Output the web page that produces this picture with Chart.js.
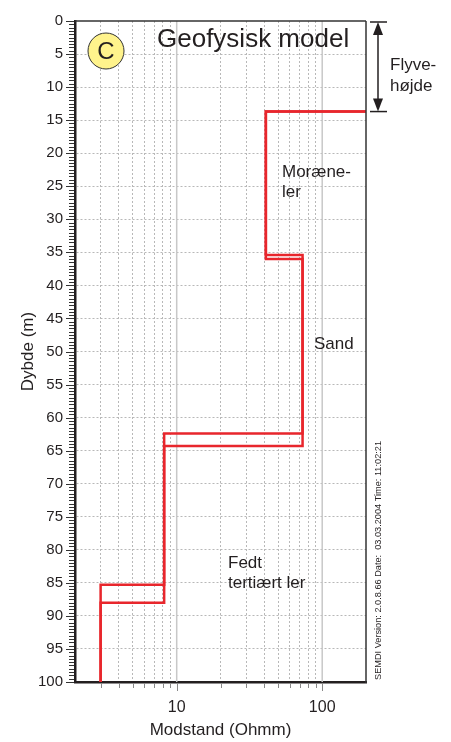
<!DOCTYPE html>
<html>
<head>
<meta charset="utf-8">
<script src="https://cdn.jsdelivr.net/npm/chart.js@4.4.1/dist/chart.umd.min.js"></script>
<style>
  html, body { margin: 0; padding: 0; background: #fff; }
  #wrap { width: 451px; height: 742px; position: relative; }
</style>
</head>
<body>
<div id="wrap"><canvas id="c" width="451" height="742"></canvas></div>
<script>
// Geophysical layer model: resistivity (ohm-m) against depth (m), two model variants
const flightHeight = 13.7;                       // instrument height above ground (m)
const resistivityA = [41, 73.3, 8.2, 3.0];       // layer resistivities, variant A
const layerBottomA = [35.4, 62.4, 85.3, 100];    // depth to bottom of each layer, variant A
const resistivityB = [41, 73.3, 8.2, 3.0];       // layer resistivities, variant B
const layerBottomB = [36.0, 64.3, 88.0, 100];    // depth to bottom of each layer, variant B

const depthTicks = [0, 5, 10, 15, 20, 25, 30, 35, 40, 45, 50, 55, 60, 65, 70, 75, 80, 85, 90, 95, 100];
const resistivityTicks = [2, 3, 4, 5, 6, 7, 8, 9, 10, 20, 30, 40, 50, 60, 70, 80, 90, 100, 200];
const labelledResistivity = [10, 100];

const X_MIN = 2, X_MAX = 200, Y_MIN = 0, Y_MAX = 100;
const INK = '#231f20';
const GRID = '#b8b8b8';
const RED = '#e8262c';
const FONT = '"Liberation Sans", Arial, Helvetica, sans-serif';

Chart.defaults.font.family = FONT;
Chart.defaults.color = INK;

// The profile enters from the right edge at flight height, then steps through the layers
function profile(rho, bottoms) {
  const pts = [{ x: X_MAX, y: flightHeight }];
  rho.forEach((r, i) => pts.push({ x: r, y: bottoms[i] }));
  return pts;
}

const lineStyle = {
  showLine: true,
  stepped: 'before',
  borderColor: RED,
  borderWidth: 2.5,
  borderJoinStyle: 'miter',
  borderCapStyle: 'butt',
  pointRadius: 0,
  pointHoverRadius: 0,
  fill: false
};

function line(ctx, x1, y1, x2, y2) {
  ctx.beginPath(); ctx.moveTo(x1, y1); ctx.lineTo(x2, y2); ctx.stroke();
}

const decor = {
  id: 'decor',
  beforeDatasetsDraw(chart) {
    const { ctx, chartArea: a, scales: { x } } = chart;
    ctx.save();
    ctx.strokeStyle = '#c8c8c8';
    ctx.lineWidth = 1.5;
    labelledResistivity.forEach(v => {
      const px = x.getPixelForValue(v);
      line(ctx, px, a.top, px, a.bottom);
    });
    ctx.restore();
  },
  afterDraw(chart) {
    const { ctx, chartArea: a, scales: { x, y } } = chart;
    ctx.save();

    // frame: top and right edges
    ctx.strokeStyle = '#333';
    ctx.lineWidth = 1.5;
    line(ctx, a.left, a.top, a.right, a.top);
    line(ctx, a.right, a.top, a.right, a.bottom + 1);

    // depth ticks every half metre, longer every 5 m
    ctx.strokeStyle = '#333';
    ctx.lineWidth = 1;
    for (let d = Y_MIN; d <= Y_MAX + 1e-9; d += 0.5) {
      const py = Math.round(y.getPixelForValue(d)) + 0.5;
      const len = (Math.abs(d % 5) < 1e-9) ? 9 : 6;
      line(ctx, a.left - len, py, a.left - 1, py);
    }

    // resistivity ticks below the axis
    ctx.strokeStyle = '#888';
    resistivityTicks.forEach(v => {
      if (v <= X_MIN || v >= X_MAX) return;
      const px = Math.round(x.getPixelForValue(v)) + 0.5;
      const len = labelledResistivity.includes(v) ? 8 : 5;
      line(ctx, px, a.bottom + 1, px, a.bottom + 1 + len);
    });

    // panel badge
    ctx.beginPath();
    ctx.arc(106, 51, 18, 0, Math.PI * 2);
    ctx.fillStyle = '#fff38c';
    ctx.fill();
    ctx.strokeStyle = '#333';
    ctx.lineWidth = 1;
    ctx.stroke();
    ctx.fillStyle = INK;
    ctx.font = '24px ' + FONT;
    ctx.textAlign = 'center';
    ctx.textBaseline = 'middle';
    ctx.fillText('C', 106, 52);

    // title
    ctx.textAlign = 'left';
    ctx.textBaseline = 'alphabetic';
    ctx.font = '26px ' + FONT;
    ctx.fillText('Geofysisk model', 157, 47);

    // layer names
    ctx.font = '17px ' + FONT;
    ctx.fillText('Moræne-', 282, 177);
    ctx.fillText('ler', 282, 197);
    ctx.fillText('Sand', 314, 349);
    ctx.fillText('Fedt', 228, 568);
    ctx.fillText('tertiært ler', 228, 588);

    // flight height dimension arrow
    const ax = a.right + 12;
    const yTop = y.getPixelForValue(0);
    const yBot = y.getPixelForValue(flightHeight);
    ctx.strokeStyle = INK;
    ctx.fillStyle = INK;
    ctx.lineWidth = 1.5;
    line(ctx, a.right + 4, yTop + 1, a.right + 21, yTop + 1);
    line(ctx, a.right + 4, yBot, a.right + 21, yBot);
    line(ctx, ax, yTop + 10, ax, yBot - 10);
    ctx.beginPath();
    ctx.moveTo(ax, yTop + 1); ctx.lineTo(ax - 5, yTop + 14); ctx.lineTo(ax + 5, yTop + 14); ctx.closePath(); ctx.fill();
    ctx.beginPath();
    ctx.moveTo(ax, yBot); ctx.lineTo(ax - 5, yBot - 13); ctx.lineTo(ax + 5, yBot - 13); ctx.closePath(); ctx.fill();

    ctx.font = '17px ' + FONT;
    ctx.fillText('Flyve-', 390, 70);
    ctx.fillText('højde', 390, 91);

    // program stamp along the right edge
    ctx.save();
    ctx.translate(a.right + 12, a.bottom - 2);
    ctx.rotate(-Math.PI / 2);
    ctx.font = '9.2px ' + FONT;
    ctx.textAlign = 'left';
    ctx.textBaseline = 'middle';
    ctx.fillText('SEMDI Version: 2.0.8.66 Date:  03.03.2004 Time: 11:02:21', 0, 0);
    ctx.restore();

    ctx.restore();
  }
};

new Chart(document.getElementById('c'), {
  type: 'scatter',
  data: {
    datasets: [
      Object.assign({ label: 'A', data: profile(resistivityA, layerBottomA) }, lineStyle),
      Object.assign({ label: 'B', data: profile(resistivityB, layerBottomB) }, lineStyle)
    ]
  },
  options: {
    responsive: false,
    animation: false,
    devicePixelRatio: 1,
    layout: { padding: { left: 0, top: 16, right: 85, bottom: 0 } },
    plugins: { legend: { display: false }, tooltip: { enabled: false } },
    scales: {
      x: {
        type: 'logarithmic',
        position: 'bottom',
        min: X_MIN,
        max: X_MAX,
        afterBuildTicks: s => { s.ticks = resistivityTicks.map(v => ({ value: v })); },
        afterFit: s => { s.height = 60; },
        ticks: {
          autoSkip: false,
          maxRotation: 0,
          padding: 16,
          color: INK,
          font: { size: 16 },
          callback: v => labelledResistivity.includes(v) ? String(v) : ''
        },
        grid: {
          drawTicks: false,
          lineWidth: 1,
          color: c => {
            const v = c.tick && c.tick.value;
            return (v <= X_MIN || v >= X_MAX || labelledResistivity.includes(v)) ? 'rgba(0,0,0,0)' : GRID;
          }
        },
        border: { display: true, color: INK, width: 2.5, dash: [2, 2] },
        title: { display: true, text: 'Modstand (Ohmm)', color: INK, font: { size: 17 }, padding: { top: 0, bottom: 1 } }
      },
      y: {
        type: 'linear',
        position: 'left',
        reverse: true,
        min: Y_MIN,
        max: Y_MAX,
        afterBuildTicks: s => { s.ticks = depthTicks.map(v => ({ value: v })); },
        afterFit: s => { s.width = 75; },
        ticks: { autoSkip: false, padding: 12, color: INK, font: { size: 15 } },
        grid: {
          drawTicks: false,
          lineWidth: 1,
          color: c => {
            const v = c.tick && c.tick.value;
            return (v <= Y_MIN || v >= Y_MAX) ? 'rgba(0,0,0,0)' : GRID;
          }
        },
        border: { display: true, color: INK, width: 2.5, dash: [2, 2] },
        title: { display: true, text: 'Dybde (m)', color: INK, font: { size: 17 }, padding: { top: 18, bottom: 0 } }
      }
    }
  },
  plugins: [decor]
});
</script>
</body>
</html>
